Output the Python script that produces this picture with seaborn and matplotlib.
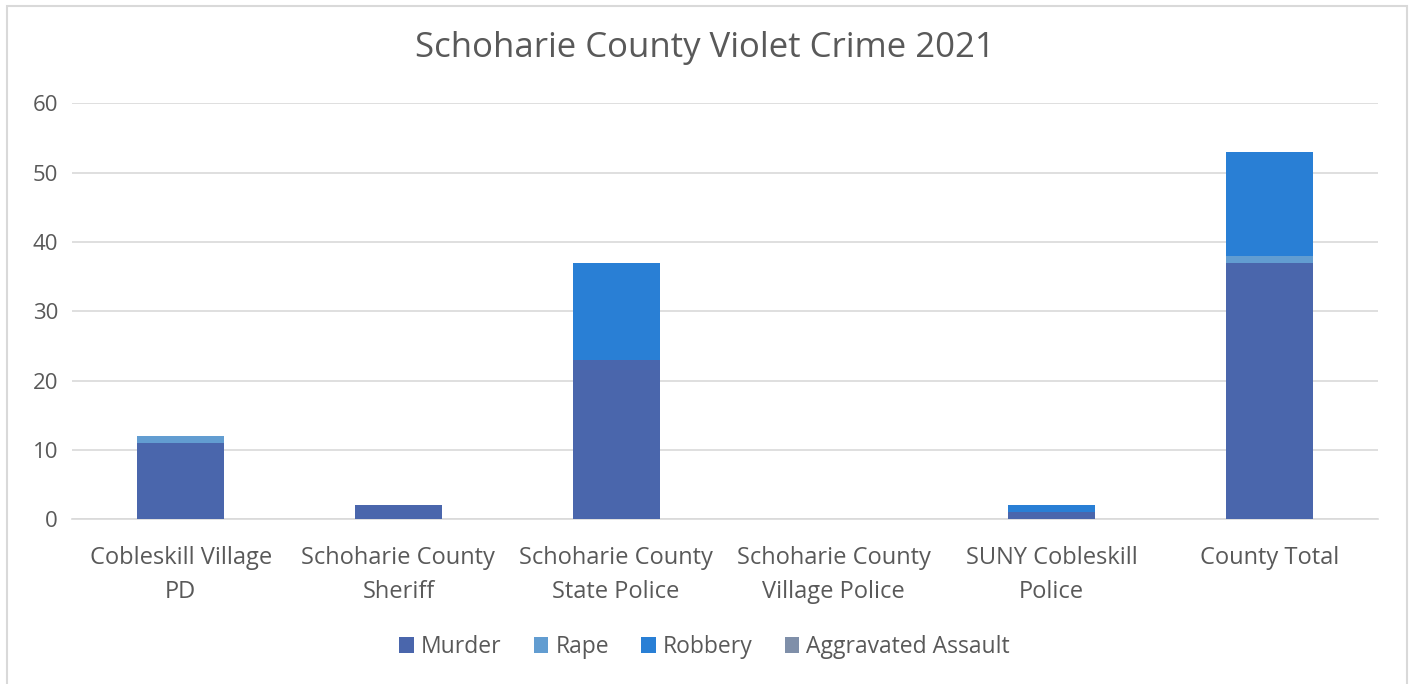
import numpy as np
import pandas as pd
import matplotlib
matplotlib.use("Agg")
import matplotlib.pyplot as plt
import seaborn as sns
from matplotlib.patches import Rectangle, Patch

agencies = ["Cobleskill Village\nPD", "Schoharie County\nSheriff", "Schoharie County\nState Police",
            "Schoharie County\nVillage Police", "SUNY Cobleskill\nPolice", "County Total"]
murder = [11, 2, 23, 0, 1, 37]
rape = [1, 0, 0, 0, 0, 1]
robbery = [0, 0, 14, 0, 1, 15]
assault = [0, 0, 0, 0, 0, 0]

series = ["Murder", "Rape", "Robbery", "Aggravated Assault"]
colors = ["#4A66AC", "#629DD1", "#297FD5", "#7F8FA9"]

sns.set_theme(style="white")
plt.rcParams['font.family'] = ['Open Sans', 'DejaVu Sans']
text_color = "#595959"

df = pd.DataFrame({"agency": agencies, "Murder": murder, "Rape": rape,
                   "Robbery": robbery, "Aggravated Assault": assault})
cum = df[series].cumsum(axis=1)

fig = plt.figure(figsize=(14.09, 6.84), dpi=100)
ax = fig.add_axes([0.051, 0.241, 0.927, 0.608])

# draw cumulative layers from the top down so each stack shows
for name, color in reversed(list(zip(series, colors))):
    sns.barplot(x=df["agency"], y=cum[name], color=color, width=0.4,
                linewidth=0, saturation=1, ax=ax, zorder=3)

ax.set_ylim(0, 60)
ax.set_yticks(range(0, 61, 10))
ax.set_xlim(-0.5, 5.5)
ax.yaxis.grid(True, color="#D9D9D9", linewidth=1.2, zorder=0)
ax.set_axisbelow(True)
for s in ["top", "right", "left"]:
    ax.spines[s].set_visible(False)
ax.spines["bottom"].set_color("#D9D9D9")
ax.spines["bottom"].set_linewidth(1.2)
ax.set_xlabel("")
ax.set_ylabel("")
ax.tick_params(axis="both", length=0, colors=text_color)
ax.tick_params(axis="y", pad=10, labelsize=16)
ax.tick_params(axis="x", pad=19, labelsize=17)
for t in ax.get_xticklabels():
    t.set_linespacing(1.6)
fig.suptitle("Schoharie County Violet Crime 2021", x=0.5, y=0.93, va="center",
             fontsize=25, color=text_color)

handles = [Patch(facecolor=c, edgecolor="none", label=n) for n, c in zip(series, colors)]
leg = fig.legend(handles=handles, loc="center", bbox_to_anchor=(0.5, 0.054), ncol=4,
                 frameon=False, fontsize=16.5, handlelength=0.65, handleheight=0.65,
                 handletextpad=0.3, columnspacing=1.4)
for t in leg.get_texts():
    t.set_color(text_color)

fig.patches.append(Rectangle((7 / 1409, -0.05), 1400 / 1409, 1.05 - 6 / 684,
                             transform=fig.transFigure, fill=False,
                             edgecolor="#D9D9D9", linewidth=1.5))

fig.savefig("out.png", dpi=100)
